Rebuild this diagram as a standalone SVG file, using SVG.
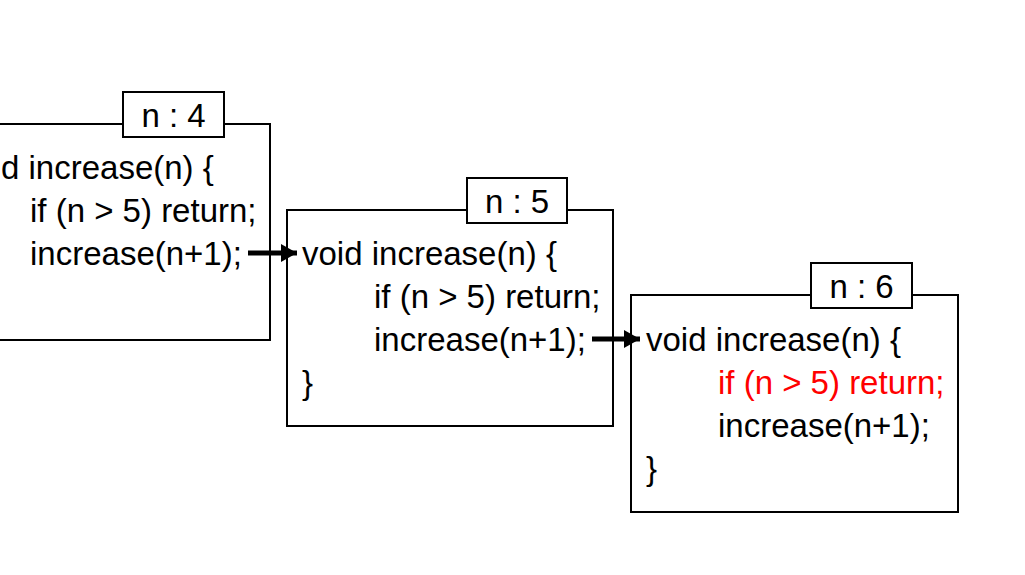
<svg xmlns="http://www.w3.org/2000/svg" width="1025" height="575" viewBox="0 0 1025 575">
<style>
.frame{fill:#fff;stroke:#000;stroke-width:2}
.t{font-family:"Liberation Sans",Arial,sans-serif;font-size:33px;fill:#000}
.red{fill:#ff0000}
.lbl{text-anchor:middle}
.arr{stroke:#000;stroke-width:5;fill:none}
</style>
<defs>
<marker id="ah" markerUnits="userSpaceOnUse" markerWidth="16" markerHeight="18" refX="16" refY="9" orient="auto">
<path d="M0,0 L16,9 L0,18 Z" fill="#000"/>
</marker>
</defs>
<rect width="1025" height="575" fill="#fff"/>
<g id="frame1">
<rect class="frame" x="-57" y="124" width="327" height="216"/>
<rect class="frame" x="123" y="92" width="101" height="45"/>
<text class="t lbl" x="173.5" y="127">n : 4</text>
<text class="t" x="1" y="179">d increase(n) {</text>
<text class="t" x="30" y="222">if (n &gt; 5) return;</text>
<text class="t" x="30" y="265">increase(n+1);</text>
</g>
<g id="frame2">
<rect class="frame" x="287" y="210" width="326" height="216"/>
<rect class="frame" x="467" y="178" width="100" height="45"/>
<text class="t lbl" x="517" y="213">n : 5</text>
<text class="t" x="302" y="265">void increase(n) {</text>
<text class="t" x="374" y="308">if (n &gt; 5) return;</text>
<text class="t" x="374" y="351">increase(n+1);</text>
<text class="t" x="302" y="394">}</text>
</g>
<g id="frame3">
<rect class="frame" x="631" y="295" width="327" height="217"/>
<rect class="frame" x="811" y="263" width="101" height="45"/>
<text class="t lbl" x="861.5" y="298">n : 6</text>
<text class="t" x="646" y="351">void increase(n) {</text>
<text class="t red" x="718" y="394">if (n &gt; 5) return;</text>
<text class="t" x="718" y="437">increase(n+1);</text>
<text class="t" x="646" y="480">}</text>
</g>
<g id="connectors">
<line class="arr" x1="248" y1="253" x2="297" y2="253" marker-end="url(#ah)"/>
<line class="arr" x1="592" y1="339" x2="640" y2="339" marker-end="url(#ah)"/>
</g>
</svg>
